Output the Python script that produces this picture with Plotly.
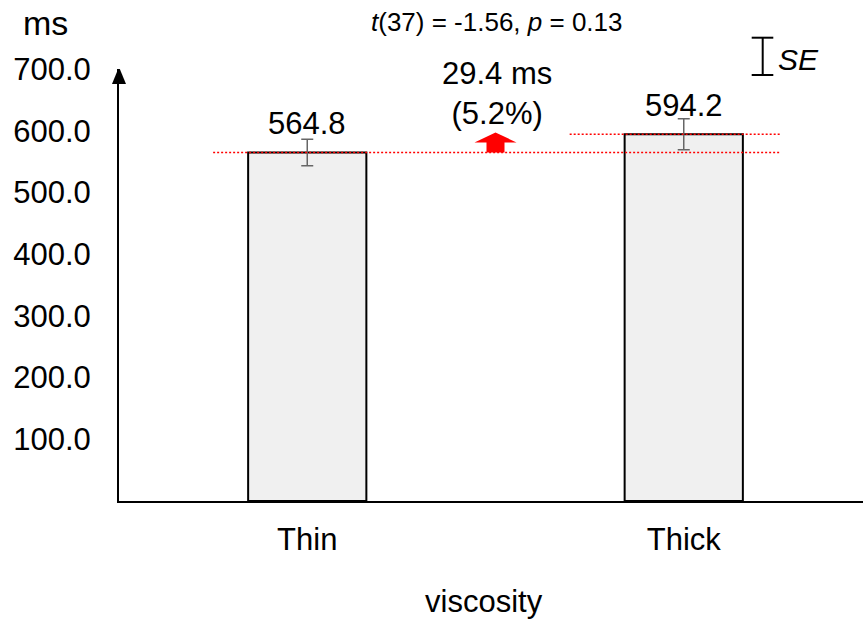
import plotly.graph_objects as go

# Reaction time by viscosity condition
categories = ["Thin", "Thick"]
means = [564.8, 594.2]
se = [21.5, 25.0]
tick_values = [100, 200, 300, 400, 500, 600, 700]
stat_text = "<i>t</i>(37) = -1.56, <i>p</i> = 0.13"

FONT = "Liberation Sans, Arial, sans-serif"
W, H = 863, 619
L, R, T, B = 119, 0, 69, 118
PW, PH = W - L - R, H - T - B


def px(x):
    return (x - L) / PW


def py(y):
    return (H - B - y) / PH


diff = means[1] - means[0]
pct = diff / means[0] * 100

fig = go.Figure()
fig.add_trace(go.Bar(
    x=categories, y=means, width=0.314,
    marker=dict(color="#f0f0f0", line=dict(color="black", width=2)),
    error_y=dict(type="data", array=se, color="#666666", thickness=1.5, width=6),
    showlegend=False,
))

shapes = []
# reference lines at each mean
shapes.append(dict(type="line", xref="x", yref="y", x0=-0.25, x1=1.258,
                   y0=means[0], y1=means[0],
                   line=dict(color="red", width=1.5, dash="2px,2px")))
shapes.append(dict(type="line", xref="x", yref="y", x0=0.697, x1=1.255,
                   y0=means[1], y1=means[1],
                   line=dict(color="red", width=1.5, dash="2px,2px")))
# upward red arrow showing the increase
shapes.append(dict(type="path", xref="x", yref="y",
                   xsizemode="pixel", ysizemode="pixel",
                   xanchor=0.5, yanchor=means[0],
                   path="M -9,0 L 9,0 L 9,10 L 21,10 L 0,20 L -21,10 L -9,10 Z",
                   fillcolor="red", line=dict(width=0)))
# arrowhead on the y axis
shapes.append(dict(type="path", xref="paper", yref="y",
                   xsizemode="pixel", ysizemode="pixel",
                   xanchor=0, yanchor=700,
                   path="M -7,-15 L 7,-15 L 0,2 Z",
                   fillcolor="black", line=dict(width=0)))
# SE legend glyph
for x0, x1, y0, y1 in [(762.7, 762.7, 37.7, 75), (751.7, 773.3, 37.7, 37.7),
                       (751.7, 773.3, 75, 75)]:
    shapes.append(dict(type="line", xref="paper", yref="paper",
                       x0=px(x0), x1=px(x1), y0=py(y0), y1=py(y1),
                       line=dict(color="black", width=2)))


def note(x, y, text, size):
    return dict(x=px(x), y=py(y), xref="paper", yref="paper", text=text,
                showarrow=False, xanchor="center", yanchor="middle",
                font=dict(size=size, color="black", family=FONT))


annotations = []
for c, m in zip(categories, means):
    annotations.append(dict(x=c, y=m, xref="x", yref="y", text=f"{m:.1f}",
                            showarrow=False, yshift=29, xanchor="center",
                            yanchor="middle",
                            font=dict(size=31, color="black", family=FONT)))
annotations += [
    note(497, 93, f"{diff:.1f} ms<br>({pct:.1f}%)", 31),
    note(497, 22, stat_text, 26),
    note(45, 23, "ms", 34),
    note(798, 59, "<i>SE</i>", 30),
    note(484, 601, "viscosity", 31),
]

fig.update_layout(
    width=W, height=H,
    margin=dict(l=L, r=R, t=T, b=B, pad=0),
    paper_bgcolor="white", plot_bgcolor="white",
    font=dict(family=FONT, size=31, color="black"),
    shapes=shapes, annotations=annotations,
    xaxis=dict(range=[-0.5, -0.5 + PW / 376.5], showline=True, linewidth=2,
               linecolor="black", showgrid=False, zeroline=False, ticks="",
               ticklabelstandoff=10, tickfont=dict(size=31)),
    yaxis=dict(range=[0, 700], showline=True, linewidth=2, linecolor="black",
               showgrid=False, zeroline=False, ticks="", tickvals=tick_values,
               tickformat=".1f", ticklabelstandoff=20, tickfont=dict(size=31)),
)

fig.write_html("out.html")
